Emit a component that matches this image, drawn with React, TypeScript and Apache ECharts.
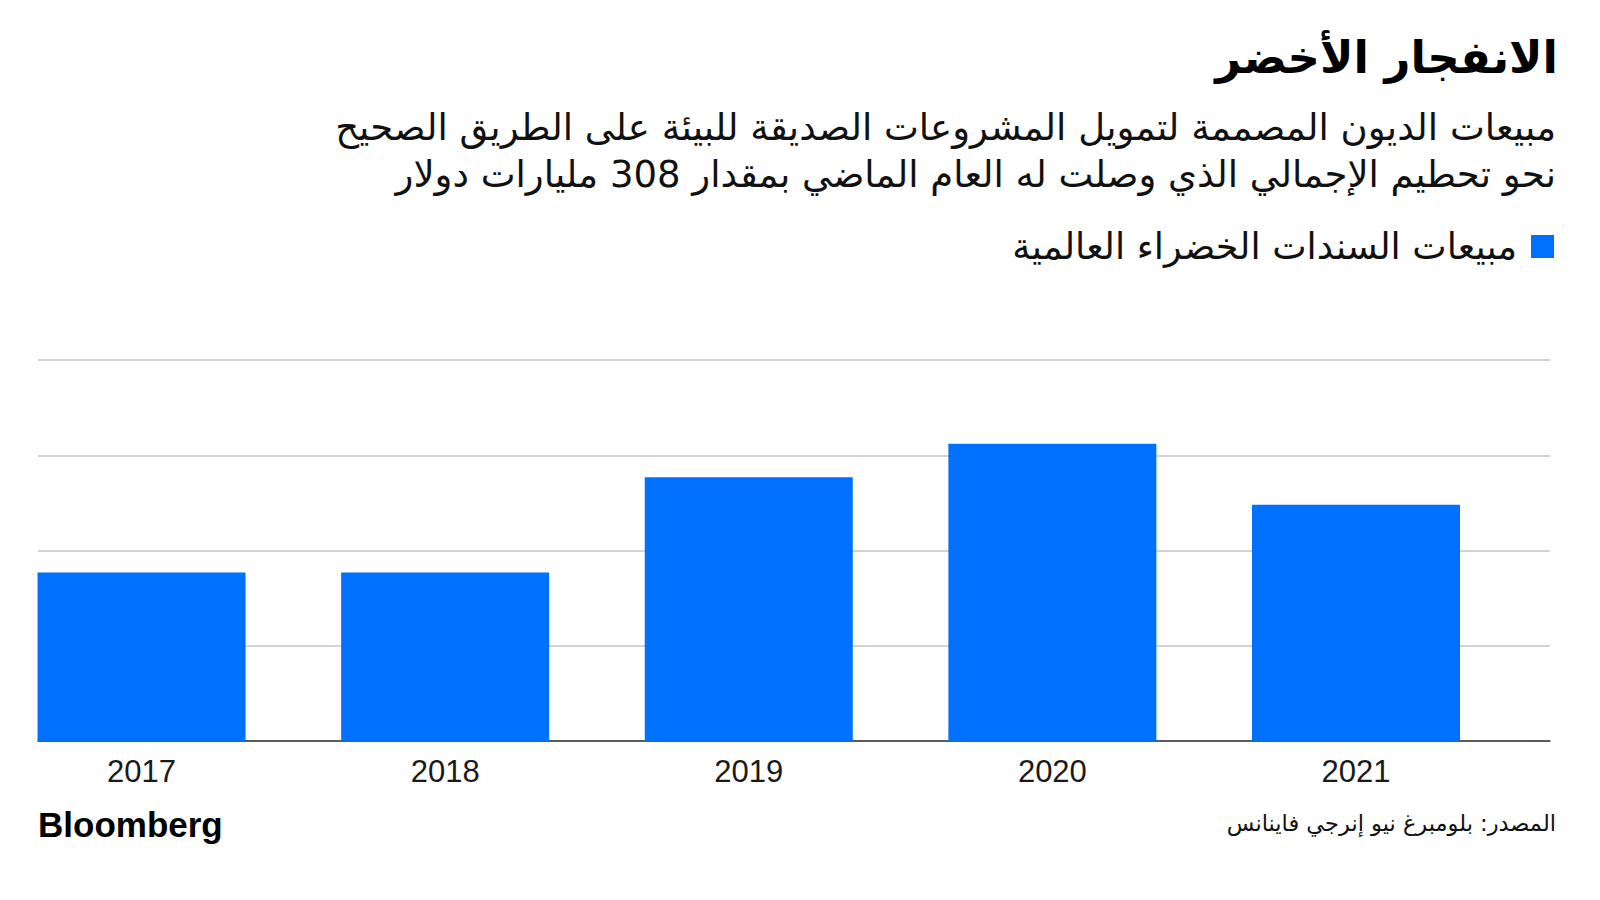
import React, { useEffect, useRef } from "react";
import * as echarts from "echarts";

const years = [2017, 2018, 2019, 2020, 2021];
const greenBondSales = [177, 177, 277, 312, 248];
const yTicks = [0, 100, 200, 300, 400];

const titleText = "الانفجار الأخضر";
const subtitleLines = [
  "مبيعات الديون المصممة لتمويل المشروعات الصديقة للبيئة على الطريق الصحيح",
  "نحو تحطيم الإجمالي الذي وصلت له العام الماضي بمقدار 308 مليارات دولار",
];
const seriesName = "مبيعات السندات الخضراء العالمية";
const sourceText = "المصدر: بلومبرغ نيو إنرجي فاينانس";
const brandText = "Bloomberg";

const ARABIC_FONT = "'DejaVu Sans', 'Noto Sans', sans-serif";
const LATIN_FONT = "'Liberation Sans', Arial, sans-serif";

export default function App() {
  const ref = useRef<HTMLDivElement>(null);

  useEffect(() => {
    if (!ref.current) return;
    const chart = echarts.init(ref.current, null, { renderer: "svg" });
    chart.setOption({
      animation: false,
      backgroundColor: "#ffffff",
      grid: { left: 38, right: 50, top: 360, bottom: 159, containLabel: false },
      legend: {
        show: true,
        right: 41,
        top: 223,
        align: "right",
        itemWidth: 23,
        itemHeight: 23,
        icon: "rect",
        data: [seriesName],
        textStyle: {
          fontFamily: ARABIC_FONT,
          fontSize: 36.5,
          color: "#111111",
          padding: [0, 9, 0, 0],
        },
      },
      xAxis: {
        type: "value",
        min: 2016.659,
        max: 2021.639,
        splitLine: { show: false },
        axisTick: { show: false },
        axisLine: { show: true, onZero: true, lineStyle: { color: "#333333", width: 1.5 } },
        axisLabel: {
          show: true,
          customValues: years,
          formatter: (v: number) => String(v),
          fontFamily: LATIN_FONT,
          fontSize: 31,
          color: "#1a1a1a",
          margin: 15,
        },
      },
      yAxis: {
        type: "value",
        min: yTicks[0],
        max: yTicks[yTicks.length - 1],
        interval: yTicks[1] - yTicks[0],
        axisLabel: { show: false },
        axisLine: { show: false },
        axisTick: { show: false },
        splitLine: { show: true, lineStyle: { color: "#c4c4c4", width: 1.5 } },
      },
      series: [
        {
          name: seriesName,
          type: "bar",
          barWidth: 208,
          itemStyle: { color: "#0070ff" },
          data: years.map((y, i) => [y, greenBondSales[i]]),
          z: 1,
        },
      ],
      graphic: [
        {
          type: "text",
          right: 42,
          top: 35,
          style: {
            text: titleText,
            font: `bold 45px ${ARABIC_FONT}`,
            fill: "#000000",
            textAlign: "right",
          },
        },
        {
          type: "text",
          right: 44,
          top: 104,
          style: {
            text: subtitleLines.join("\n"),
            font: `37px ${ARABIC_FONT}`,
            lineHeight: 47,
            fill: "#111111",
            textAlign: "right",
          },
        },
        {
          type: "text",
          right: 44,
          top: 811,
          style: {
            text: sourceText,
            font: `22.5px ${ARABIC_FONT}`,
            fill: "#111111",
            textAlign: "right",
          },
        },
        {
          type: "text",
          left: 38,
          top: 807,
          style: {
            text: brandText,
            font: `bold 35px ${LATIN_FONT}`,
            fill: "#000000",
          },
        },
      ],
    });
    return () => chart.dispose();
  }, []);

  return (
    <div
      ref={ref}
      style={{ position: "fixed", left: 0, top: 0, width: 1600, height: 900, background: "#fff" }}
    />
  );
}
